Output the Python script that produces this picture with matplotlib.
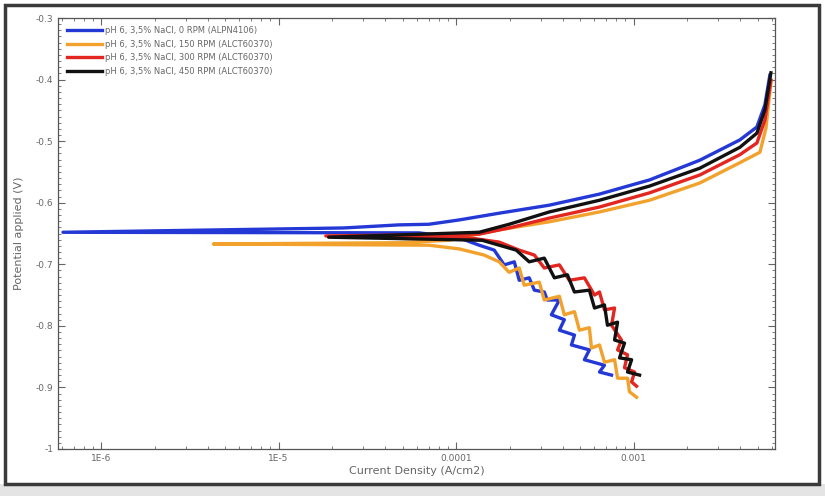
import numpy as np
import matplotlib
matplotlib.use("Agg")
import matplotlib.pyplot as plt
from matplotlib.patches import Rectangle
from matplotlib.ticker import FixedLocator, FixedFormatter, MultipleLocator, LogLocator, NullFormatter

# ---------------- data (log10 of current density in A/cm2, potential in V) ----------------
labels = [
    "pH 6, 3,5% NaCl, 0 RPM (ALPN4106)",
    "pH 6, 3,5% NaCl, 150 RPM (ALCT60370)",
    "pH 6, 3,5% NaCl, 300 RPM (ALCT60370)",
    "pH 6, 3,5% NaCl, 450 RPM (ALCT60370)",
]
colors = ["#2438d6", "#f2a22c", "#e3261f", "#111111"]

# 0 RPM (blue)
logi_0 = [-3.124, -3.192, -3.164, -3.277, -3.249, -3.350, -3.333, -3.418, -3.390, -3.463,
          -3.418, -3.486, -3.503, -3.559, -3.588, -3.644, -3.672, -3.729, -3.785, -3.870,
          -3.983, -4.209,
          -6.215,
          -4.633, -4.322, -4.153, -3.983, -3.757, -3.475, -3.192, -2.910, -2.627, -2.401,
          -2.305, -2.260, -2.232]
E_0 = [-0.880, -0.875, -0.864, -0.855, -0.839, -0.831, -0.815, -0.807, -0.790, -0.782,
       -0.758, -0.758, -0.745, -0.742, -0.722, -0.726, -0.696, -0.701, -0.677, -0.669,
       -0.657, -0.649,
       -0.648,
       -0.641, -0.636, -0.635, -0.628, -0.617, -0.604, -0.586, -0.563, -0.531, -0.498,
       -0.477, -0.441, -0.393]

# 150 RPM (orange)
logi_150 = [-2.983, -3.023, -3.034, -3.090, -3.107, -3.164, -3.192, -3.237, -3.249, -3.305,
            -3.333, -3.390, -3.418, -3.503, -3.531, -3.616, -3.644, -3.701, -3.757, -3.842,
            -3.983, -4.153,
            -5.367,
            -4.322, -4.040, -3.757, -3.475, -3.192, -2.910, -2.627, -2.401, -2.288, -2.254,
            -2.226]
E_150 = [-0.916, -0.907, -0.885, -0.885, -0.855, -0.859, -0.831, -0.836, -0.803, -0.807,
         -0.777, -0.782, -0.752, -0.758, -0.729, -0.734, -0.706, -0.713, -0.696, -0.685,
         -0.675, -0.669,
         -0.667,
         -0.665, -0.661, -0.644, -0.631, -0.615, -0.596, -0.568, -0.535, -0.518, -0.479,
         -0.404]

# 300 RPM (red)
logi_300 = [-2.983, -3.011, -2.994, -3.051, -3.034, -3.090, -3.068, -3.124, -3.107, -3.164,
            -3.192, -3.220, -3.277, -3.362, -3.418, -3.503, -3.559, -3.644, -3.757, -3.927,
            -4.734,
            -3.870, -3.701, -3.475, -3.192, -2.910, -2.627, -2.401, -2.305, -2.260, -2.226]
E_300 = [-0.898, -0.891, -0.875, -0.868, -0.847, -0.839, -0.823, -0.799, -0.771, -0.774,
         -0.745, -0.750, -0.722, -0.726, -0.701, -0.706, -0.685, -0.677, -0.664, -0.657,
         -0.654,
         -0.651, -0.641, -0.625, -0.607, -0.584, -0.555, -0.522, -0.503, -0.466, -0.401]

# 450 RPM (black)
logi_450 = [-2.966, -3.034, -3.011, -3.079, -3.051, -3.107, -3.090, -3.147, -3.164, -3.220,
            -3.249, -3.333, -3.373, -3.446, -3.503, -3.588, -3.661, -3.757, -3.853,
            -4.718,
            -3.870, -3.701, -3.475, -3.192, -2.910, -2.627, -2.401, -2.305, -2.260, -2.226]
E_450 = [-0.880, -0.875, -0.855, -0.852, -0.828, -0.823, -0.794, -0.799, -0.766, -0.771,
         -0.742, -0.745, -0.717, -0.722, -0.690, -0.696, -0.677, -0.669, -0.661,
         -0.656,
         -0.648, -0.635, -0.615, -0.596, -0.573, -0.544, -0.510, -0.487, -0.449, -0.389]

series_logi = [logi_0, logi_150, logi_300, logi_450]
series_E = [E_0, E_150, E_300, E_450]

x_ticks = [1e-6, 1e-5, 1e-4, 1e-3]
x_ticklabels = ["1E-6", "1E-5", "0.0001", "0.001"]
y_ticks = [-1.0, -0.9, -0.8, -0.7, -0.6, -0.5, -0.4, -0.3]
y_ticklabels = ["-1", "-0.9", "-0.8", "-0.7", "-0.6", "-0.5", "-0.4", "-0.3"]

# ---------------- figure ----------------
fig = plt.figure(figsize=(8.25, 4.96), dpi=100)
fig.patch.set_facecolor("white")

# outer frame of the screenshot
fig.add_artist(Rectangle((0, 0), 1, 12 / 496, transform=fig.transFigure,
                         facecolor="#e4e4e4", edgecolor="none", zorder=0))
fig.add_artist(Rectangle((5 / 825, 12 / 496), 814 / 825, 479 / 496, transform=fig.transFigure,
                         facecolor="none", edgecolor="#3a3a3a", linewidth=2.5, zorder=1))

ax = fig.add_axes([58 / 825, 47 / 496, 717 / 825, 431 / 496])

for li, e, c, lab in zip(series_logi, series_E, colors, labels):
    ax.plot(10 ** np.array(li), e, color=c, lw=2.4, label=lab, solid_joinstyle="round")

ax.set_xscale("log")
ax.set_xlim(10 ** -6.243, 10 ** -2.203)
ax.set_ylim(-1.0, -0.3)

ax.xaxis.set_major_locator(FixedLocator(x_ticks))
ax.xaxis.set_major_formatter(FixedFormatter(x_ticklabels))
ax.xaxis.set_minor_locator(LogLocator(base=10, subs=np.arange(2, 10)))
ax.xaxis.set_minor_formatter(NullFormatter())
ax.yaxis.set_major_locator(FixedLocator(y_ticks))
ax.yaxis.set_major_formatter(FixedFormatter(y_ticklabels))
ax.yaxis.set_minor_locator(MultipleLocator(0.01))

ax.tick_params(which="both", direction="in", top=True, right=True, colors="#666666",
               labelsize=6.5, labelcolor="#666666")
ax.tick_params(which="major", length=5, width=0.8)
ax.tick_params(which="minor", length=2.5, width=0.6)
for s in ax.spines.values():
    s.set_color("#555555")
    s.set_linewidth(0.9)

ax.set_xlabel("Current Density (A/cm2)", fontsize=8, color="#666666", labelpad=2)
ax.set_ylabel("Potential applied (V)", fontsize=8, color="#666666", labelpad=8)

leg = ax.legend(loc="upper left", frameon=False, fontsize=6, handlelength=4.2,
                handletextpad=0.3, labelspacing=0.55, borderaxespad=0.3,
                bbox_to_anchor=(0.005, 0.995))
for t in leg.get_texts():
    t.set_color("#666666")

fig.savefig("out.png", dpi=100)
